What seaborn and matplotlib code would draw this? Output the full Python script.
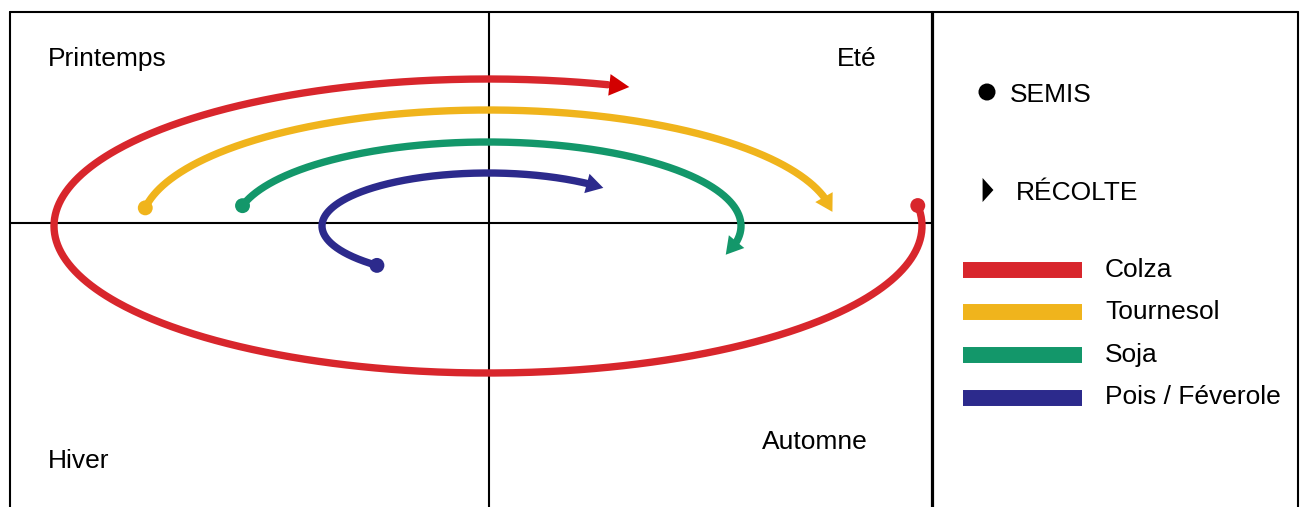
import numpy as np
import pandas as pd
import matplotlib.pyplot as plt
import seaborn as sns

# crops, drawn on the season wheel (angles in degrees, counter-clockwise
# from 3 o'clock; crops move clockwise from semis to recolte)
crops = ["Colza", "Tournesol", "Soja", "Pois / Féverole"]
colors = ["#d8262c", "#f0b41c", "#13976a", "#2c2a8c"]
semis_deg = [8, 171, 166, 228]
recolte_deg = [-289, 7, -20, 46]
half_width = [434, 347, 253, 166]
half_height = [147, 116, 84, 53]

seasons = ["Printemps", "Eté", "Automne", "Hiver"]
legend_marks = ["SEMIS", "RÉCOLTE"]

W, H = 1300, 507
cx, cy = 488, 226

sns.set_theme(style="white")
plt.rcParams['font.family'] = ['Liberation Sans', 'DejaVu Sans']
plt.rcParams['text.color'] = 'black'

fig = plt.figure(figsize=(13, 5.07), dpi=100)
ax = fig.add_axes([0, 0, 1, 1])
ax.set_xlim(0, W)
ax.set_ylim(H, 0)
ax.axis('off')

# frame
lw_frame = 1.5
ax.plot([10, 10], [12, H], color='black', lw=lw_frame)
ax.plot([10, 1298], [12, 12], color='black', lw=lw_frame)
ax.plot([1298, 1298], [12, H], color='black', lw=lw_frame)
ax.plot([932, 932], [12, H], color='black', lw=2.3)
ax.plot([489, 489], [12, H], color='black', lw=lw_frame)
ax.plot([10, 932], [223, 223], color='black', lw=lw_frame)

def arc(t0, t1, a, b):
    t = np.radians(np.linspace(t0, t1, 600))
    return cx + a * np.cos(t), cy - b * np.sin(t)

for i, crop in enumerate(crops):
    x, y = arc(semis_deg[i], recolte_deg[i], half_width[i], half_height[i])
    head = 20 if i == 0 else 17
    seg = np.hypot(np.diff(x), np.diff(y))
    from_end = np.concatenate([np.cumsum(seg[::-1])[::-1], [0]])
    keep = from_end >= head
    df = pd.DataFrame({'x': x[keep], 'y': y[keep]})
    sns.lineplot(data=df, x='x', y='y', sort=False, estimator=None, ax=ax,
                 color=colors[i], lw=5.3, solid_capstyle='round')
    head_color = '#d20000' if i == 0 else colors[i]
    hw = 7.8 if i == 0 else 7.2
    ax.annotate("", xy=(x[-1], y[-1]), xytext=(x[keep][-1], y[keep][-1]),
                arrowprops=dict(arrowstyle=f"-|>,head_length={head * 0.72},head_width={hw}",
                                mutation_scale=1, color=head_color, lw=0,
                                shrinkA=0, shrinkB=0))
    sns.scatterplot(x=[x[0]], y=[y[0]], color=colors[i], s=115, ax=ax,
                    edgecolor='none', zorder=3)

# season labels
fs = 19
ax.text(48, 66, seasons[0], fontsize=fs, va='baseline', color='black')
ax.text(837, 66, seasons[1], fontsize=fs, va='baseline', color='black')
ax.text(762, 449, seasons[2], fontsize=fs, va='baseline', color='black')
ax.text(48, 468, seasons[3], fontsize=fs, va='baseline', color='black')

# legend panel
tri = [(-0.45, -1), (-0.45, 1), (0.45, 0)]
ax.scatter([987], [92], s=150, color='black', edgecolor='none')
ax.scatter([988], [190], s=300, marker=tri, color='black', edgecolor='none')
ax.text(1010, 102, legend_marks[0], fontsize=fs, va='baseline', color='black')
ax.text(1016, 200, legend_marks[1], fontsize=fs, va='baseline', color='black')

bar_y = [270, 312, 355, 398]
base_y = [277, 319, 362, 404]
for i, crop in enumerate(crops):
    ax.plot([963, 1082], [bar_y[i], bar_y[i]], color=colors[i], lw=11.5,
            solid_capstyle='butt')
    ax.text(1105, base_y[i], crop, fontsize=fs, va='baseline', color='black')

fig.savefig('out.png', dpi=100, facecolor='white')
